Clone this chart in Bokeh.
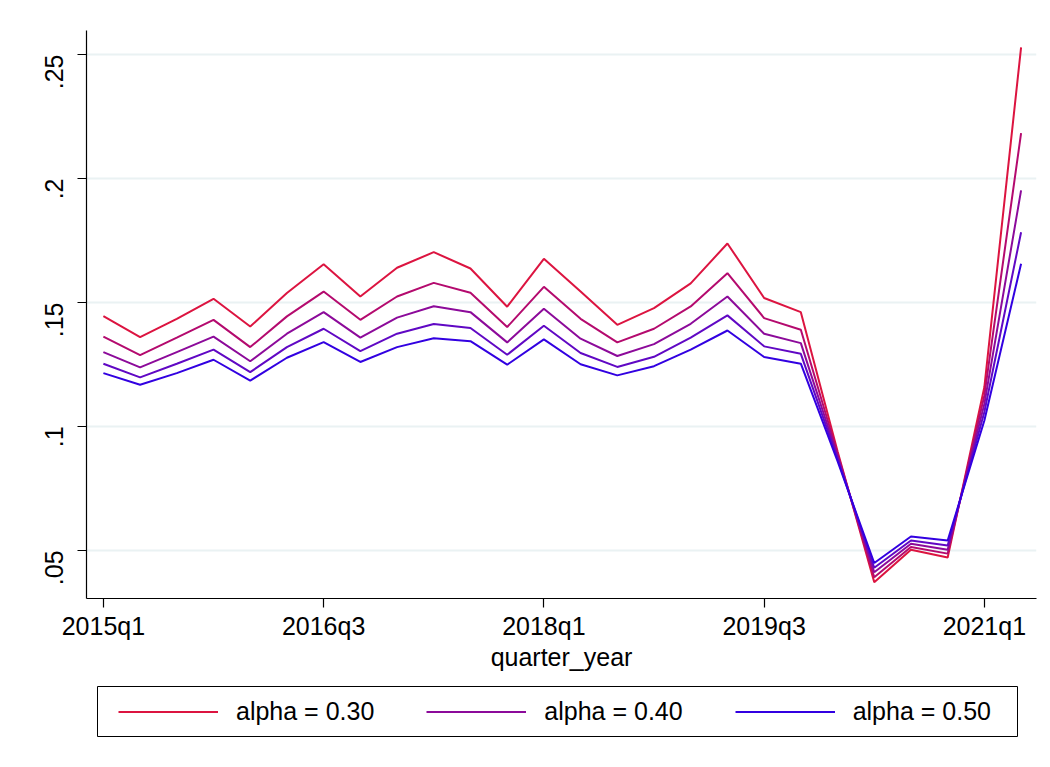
from bokeh.plotting import figure
from bokeh.models import Range1d, Legend, LegendItem, FixedTicker, BoxAnnotation
from bokeh.layouts import column
from bokeh.embed import file_html
from bokeh.resources import INLINE
import math

quarters = ["2015q1", "2015q2", "2015q3", "2015q4", "2016q1", "2016q2", "2016q3", "2016q4",
            "2017q1", "2017q2", "2017q3", "2017q4", "2018q1", "2018q2", "2018q3", "2018q4",
            "2019q1", "2019q2", "2019q3", "2019q4", "2020q1", "2020q2", "2020q3", "2020q4",
            "2021q1", "2021q2"]

alpha_030 = [0.1445, 0.1360, 0.1434, 0.1515, 0.1403, 0.1538, 0.1654, 0.1524, 0.1640, 0.1703,
             0.1637, 0.1483, 0.1676, 0.1544, 0.1410, 0.1477, 0.1577, 0.1738, 0.1518, 0.1461,
             0.0900, 0.0372, 0.0503, 0.0471, 0.1159, 0.2529]
alpha_035 = [0.1362, 0.1288, 0.1358, 0.1430, 0.1320, 0.1444, 0.1544, 0.1430, 0.1524, 0.1579,
             0.1539, 0.1401, 0.1563, 0.1434, 0.1339, 0.1394, 0.1484, 0.1618, 0.1437, 0.1390,
             0.0890, 0.0392, 0.0514, 0.0487, 0.1125, 0.2183]
alpha_040 = [0.1300, 0.1238, 0.1300, 0.1362, 0.1263, 0.1374, 0.1461, 0.1358, 0.1439, 0.1485,
             0.1461, 0.1339, 0.1475, 0.1354, 0.1284, 0.1332, 0.1414, 0.1524, 0.1374, 0.1336,
             0.0880, 0.0412, 0.0527, 0.0503, 0.1091, 0.1952]
alpha_045 = [0.1253, 0.1198, 0.1253, 0.1310, 0.1219, 0.1320, 0.1394, 0.1304, 0.1374, 0.1413,
             0.1397, 0.1289, 0.1406, 0.1296, 0.1240, 0.1281, 0.1358, 0.1448, 0.1323, 0.1293,
             0.0870, 0.0430, 0.0540, 0.0520, 0.1058, 0.1783]
alpha_050 = [0.1215, 0.1168, 0.1215, 0.1269, 0.1185, 0.1277, 0.1340, 0.1260, 0.1320, 0.1356,
             0.1344, 0.1249, 0.1351, 0.1251, 0.1206, 0.1243, 0.1310, 0.1387, 0.1280, 0.1253,
             0.0860, 0.0449, 0.0556, 0.0540, 0.1024, 0.1656]

series = [
    ("alpha = 0.30", alpha_030, "#DC1440", True),
    ("alpha = 0.35", alpha_035, "#B40A6E", False),
    ("alpha = 0.40", alpha_040, "#8C0A9A", True),
    ("alpha = 0.45", alpha_045, "#6008C4", False),
    ("alpha = 0.50", alpha_050, "#3200E1", True),
]

x_tick_idx = [0, 6, 12, 18, 24]
y_ticks = [0.05, 0.1, 0.15, 0.2, 0.25]
y_tick_labels = [".05", ".1", ".15", ".2", ".25"]

FONT = "Liberation Sans"

p = figure(frame_width=950, frame_height=568, output_backend="svg", toolbar_location=None,
           x_range=Range1d(-0.46, 25.42), y_range=Range1d(0.0306, 0.2597),
           min_border_left=86, min_border_right=6, min_border_top=30, min_border_bottom=80)
p.outline_line_color = None
p.background_fill_color = "white"
p.border_fill_color = "white"

x = list(range(len(quarters)))
for name, vals, col, show in series:
    p.line(x, vals, line_color=col, line_width=2)

# axes
p.xaxis.ticker = FixedTicker(ticks=x_tick_idx)
p.xaxis.major_label_overrides = {i: quarters[i] for i in x_tick_idx}
p.yaxis.ticker = FixedTicker(ticks=y_ticks)
p.yaxis.major_label_overrides = {v: l for v, l in zip(y_ticks, y_tick_labels)}
p.yaxis.major_label_orientation = math.pi / 2
p.xaxis.axis_label = "quarter_year"

for ax in (p.xaxis, p.yaxis):
    ax.axis_line_color = "black"
    ax.axis_line_width = 1.2
    ax.major_tick_line_color = "black"
    ax.major_tick_line_width = 1.2
    ax.major_tick_out = 9
    ax.major_tick_in = 0
    ax.minor_tick_line_color = None
    ax.major_label_text_font = FONT
    ax.major_label_text_font_size = "25px"
    ax.major_label_text_color = "black"
    ax.axis_label_text_font = FONT
    ax.axis_label_text_font_size = "25px"
    ax.axis_label_text_font_style = "normal"
    ax.axis_label_text_color = "black"

p.xaxis.major_label_standoff = 4
p.xaxis.axis_label_standoff = 0
p.yaxis.major_label_standoff = 23

p.xgrid.grid_line_color = None
p.ygrid.grid_line_color = "#EAF2F3"
p.ygrid.grid_line_width = 2

# legend strip below the plot (pixel-like ranges of its own frame)
lg = figure(frame_width=950, frame_height=72, output_backend="svg", toolbar_location=None,
            x_range=Range1d(0, 950), y_range=Range1d(0, 72),
            min_border_left=86, min_border_right=6, min_border_top=0, min_border_bottom=0)
lg.axis.visible = False
lg.grid.visible = False
lg.outline_line_color = None
lg.border_fill_color = "white"
lg.background_fill_color = "white"

items = []
for name, vals, col, show in series:
    if show:
        r = lg.line(x, vals, line_color=col, line_width=2, visible=False)
        items.append(LegendItem(label=name, renderers=[r]))

lg.add_layout(BoxAnnotation(left=11, right=931, bottom=14, top=64,
                            fill_alpha=0, line_color="black", line_width=1, line_alpha=1))

legend = Legend(items=items, orientation="horizontal", location=(32, 24),
                glyph_width=100, glyph_height=29, label_height=29, label_standoff=18,
                spacing=52, padding=0, margin=0, border_line_color=None,
                label_text_font=FONT, label_text_font_size="25px", label_text_color="black",
                background_fill_alpha=0, inactive_fill_alpha=0)
lg.add_layout(legend)

layout = column(p, lg, spacing=0)
open("out.html", "w").write(file_html(layout, INLINE))
